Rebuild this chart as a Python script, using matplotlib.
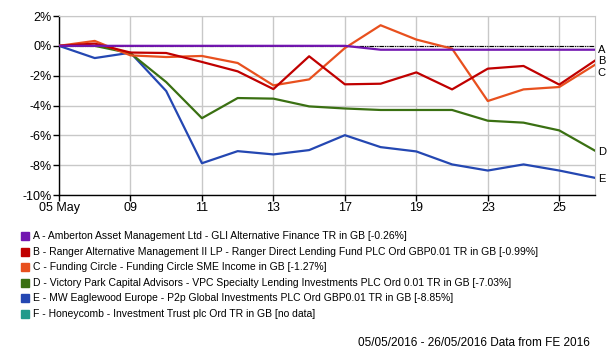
import matplotlib
matplotlib.use('Agg')
import matplotlib.pyplot as plt
from matplotlib.patches import Rectangle

plt.rcParams['font.family'] = ['Liberation Sans', 'DejaVu Sans']

# trading days 05/05/2016 - 26/05/2016
days = ['05', '06', '09', '10', '11', '12', '13', '16', '17', '18', '19', '20', '23', '24', '25', '26']
tick_days = ['05 May', '09', '11', '13', '17', '19', '23', '25']
tick_idx = [0, 2, 4, 6, 8, 10, 12, 14]

a_vals = [0, 0, 0, 0, 0, 0, 0, 0, 0, -0.26, -0.26, -0.26, -0.26, -0.26, -0.26, -0.26]
b_vals = [0, 0.15, -0.45, -0.48, -1.08, -1.71, -2.9, -0.7, -2.58, -2.54, -1.78, -2.92, -1.53, -1.35, -2.6, -0.99]
c_vals = [0, 0.33, -0.64, -0.75, -0.68, -1.15, -2.65, -2.25, -0.15, 1.38, 0.42, -0.19, -3.7, -2.92, -2.76, -1.27]
d_vals = [0, 0.0, -0.5, -2.43, -4.85, -3.5, -3.54, -4.06, -4.2, -4.3, -4.3, -4.3, -5.02, -5.15, -5.67, -7.03]
e_vals = [0, -0.82, -0.46, -3.03, -7.87, -7.06, -7.28, -6.99, -5.99, -6.79, -7.08, -7.95, -8.36, -7.95, -8.36, -8.85]

letters = ['A', 'B', 'C', 'D', 'E', 'F']
colors = ['#7216b0', '#c00000', '#e8501e', '#3a7012', '#2447b2', '#1f9a8a']
names = [
    'A - Amberton Asset Management Ltd - GLI Alternative Finance TR in GB [-0.26%]',
    'B - Ranger Alternative Management II LP - Ranger Direct Lending Fund PLC Ord GBP0.01 TR in GB [-0.99%]',
    'C - Funding Circle - Funding Circle SME Income in GB [-1.27%]',
    'D - Victory Park Capital Advisors - VPC Specialty Lending Investments PLC Ord 0.01 TR in GB [-7.03%]',
    'E - MW Eaglewood Europe - P2p Global Investments PLC Ord GBP0.01 TR in GB [-8.85%]',
    'F - Honeycomb - Investment Trust plc Ord TR in GB [no data]',
]
label_y = [-0.3, -1.05, -1.8, -7.15, -8.96]

fig = plt.figure(figsize=(6.09, 3.52), dpi=100)
ax = fig.add_axes([59 / 609, 1 - 195 / 352, 536 / 609, 179 / 352])

x = list(range(len(days)))
ax.axhline(0, color='black', lw=0.8, dashes=(4, 1, 1, 1, 1, 1), zorder=1)
series = [a_vals, b_vals, c_vals, d_vals, e_vals]
for k in range(4, -1, -1):
    ax.plot(x, series[k], color=colors[k], lw=1.6, zorder=2 + (5 - k))

for k in range(5):
    ax.text(len(days) - 1 + 0.08, label_y[k], letters[k], fontsize=8, color='black',
            va='center', ha='left', clip_on=False)

ax.set_xlim(0, len(days) - 1)
ax.set_ylim(-10, 2)
ax.set_xticks(tick_idx)
ax.set_xticklabels(tick_days, fontsize=9)
ax.set_yticks(range(-10, 3, 2))
ax.set_yticklabels([f'{v}%' for v in range(-10, 3, 2)], fontsize=9)
ax.grid(True, color='#c8c8c8', lw=1)
ax.set_axisbelow(True)
ax.tick_params(axis='both', length=4, width=1, color='black', pad=1)
for s in ['top', 'right']:
    ax.spines[s].set_color('#c8c8c8')
for s in ['left', 'bottom']:
    ax.spines[s].set_color('black')
    ax.spines[s].set_linewidth(1)

# legend below the chart
for k in range(6):
    yc = 236 + k * 15.6
    fig.patches.append(Rectangle((21 / 609, 1 - (yc + 4) / 352), 8 / 609, 8 / 352,
                                 transform=fig.transFigure, color=colors[k]))
    fig.text(33 / 609, 1 - yc / 352, names[k], fontsize=7.5, va='center', ha='left')

fig.text(590 / 609, 1 - 343 / 352, '05/05/2016 - 26/05/2016 Data from FE 2016',
         fontsize=8.5, va='center', ha='right')

fig.savefig('out.png', dpi=100)
